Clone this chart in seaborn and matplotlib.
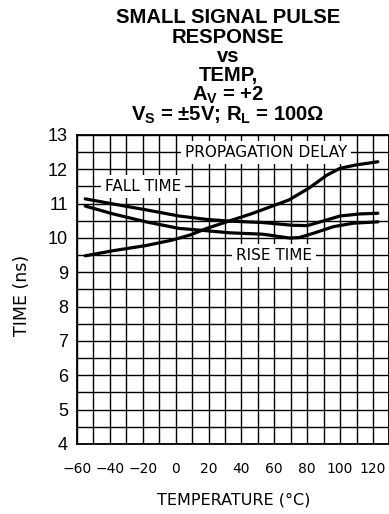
import matplotlib
matplotlib.use("Agg")
import matplotlib.pyplot as plt
import numpy as np
import pandas as pd
import seaborn as sns

# values
temp_prop = [-55, -38, -18, -2, 9, 19, 31, 47, 69, 81, 92, 100, 110, 123]
prop_delay = [9.48, 9.63, 9.78, 9.94, 10.09, 10.28, 10.47, 10.72, 11.11, 11.45,
              11.83, 12.03, 12.13, 12.22]

temp_fall = [-55, -38, -18, 2, 19, 33, 53, 71, 80, 88, 100, 112, 123]
fall_time = [11.14, 10.99, 10.82, 10.64, 10.54, 10.49, 10.45, 10.37, 10.36,
             10.47, 10.64, 10.70, 10.72]

temp_rise = [-55, -38, -18, 2, 19, 33, 53, 69, 75, 84, 96, 108, 123]
rise_time = [10.93, 10.70, 10.47, 10.28, 10.21, 10.15, 10.11, 10.00, 10.01,
             10.14, 10.33, 10.43, 10.47]

x_ticks = [-60, -40, -20, 0, 20, 40, 60, 80, 100, 120]
y_ticks = [4, 5, 6, 7, 8, 9, 10, 11, 12, 13]

title_lines = [
    "SMALL SIGNAL PULSE",
    "RESPONSE",
    "vs",
    "TEMP,",
    r"A$_V$ = +2",
    r"V$_S$ = ±5V; R$_L$ = 100Ω",
]

curve_labels = [("PROPAGATION DELAY", 55, 12.5), ("FALL TIME", -20, 11.5),
                ("RISE TIME", 60, 9.5)]

sns.set_theme(style="white")
plt.rcParams["font.family"] = ["DejaVu Sans"]
plt.rcParams["mathtext.fontset"] = "custom"
plt.rcParams["mathtext.rm"] = "Liberation Sans:bold"
plt.rcParams["mathtext.default"] = "rm"

df = pd.concat([
    pd.DataFrame({"temp": temp_prop, "time": prop_delay, "series": "prop"}),
    pd.DataFrame({"temp": temp_fall, "time": fall_time, "series": "fall"}),
    pd.DataFrame({"temp": temp_rise, "time": rise_time, "series": "rise"}),
])

fig = plt.figure(figsize=(3.89, 5.14), dpi=100)
ax = fig.add_axes([0.198, 0.1362, 0.803, 0.6012])

sns.lineplot(data=df, x="temp", y="time", units="series", estimator=None,
             color="black", linewidth=2.3, sort=False, legend=False, ax=ax)

ax.set_xlim(-60, 130)
ax.set_ylim(4, 13)
ax.set_xticks(x_ticks)
ax.set_xticks(np.arange(-60, 131, 10), minor=True)
ax.set_yticks(y_ticks)
ax.set_yticks(np.arange(4, 13.01, 0.5), minor=True)
ax.set_xlabel("")
ax.set_ylabel("")
ax.set_axisbelow(True)
ax.grid(which="both", color="black", linewidth=1.0)
for s in ax.spines.values():
    s.set_color("black")
    s.set_linewidth(1.3)

ax.tick_params(which="both", length=0)
ax.tick_params(axis="x", pad=13, labelsize=10, colors="black")
ax.tick_params(axis="y", pad=6.5, labelsize=13, colors="black")
for lab in ax.get_yticklabels():
    lab.set_fontfamily("Liberation Sans")

for text, x, y in curve_labels:
    ax.text(x, y, text, ha="center", va="center", fontsize=11, color="black",
            bbox=dict(facecolor="white", edgecolor="none", pad=3), zorder=3)

baselines = [22.7, 43.3, 61.7, 81.2, 100.8, 121.0]
for line, b in zip(title_lines, baselines):
    fig.text(228 / 389, 1 - b / 514, line, ha="center", va="baseline",
             fontsize=14.6, fontweight="bold", fontfamily="Liberation Sans",
             color="black")

fig.text(234 / 389, 1 - 500 / 514, "TEMPERATURE (°C)", ha="center",
         va="center", fontsize=11.5, color="black")
fig.text(22 / 389, 1 - 295 / 514, "TIME (ns)", ha="center", va="center",
         rotation=90, fontsize=12.5, color="black")

fig.savefig("out.png", dpi=100, facecolor="white")
